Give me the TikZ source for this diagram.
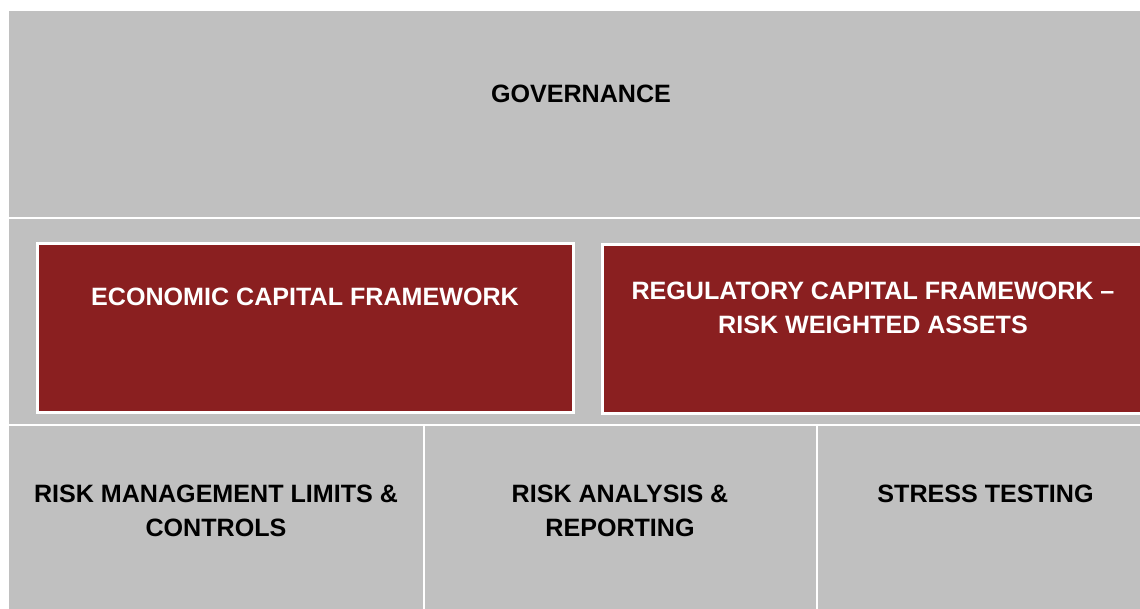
\documentclass[tikz,border=0pt]{standalone}
\usepackage{fontspec}
\setmainfont{Liberation Sans}
\definecolor{panelgray}{HTML}{C0C0C0}
\definecolor{capred}{HTML}{8A1F20}
\begin{document}
\begin{tikzpicture}[x=1pt,y=-1pt,
  cell/.style={fill=panelgray,draw=none},
  redbox/.style={fill=capred,draw=white,inner sep=0pt,outer sep=0pt,anchor=north west},
  lbl/.style={font=\bfseries\fontsize{25.1}{34}\selectfont,align=center,inner sep=0pt,anchor=base}]
\useasboundingbox (0,0) rectangle (1140,609);
\clip (0,0) rectangle (1140,609);
\path[cell] (9,11) rectangle (1160,217.5);
\path[cell] (9,219.5) rectangle (1160,424);
\path[cell] (9,426) rectangle (423,620);
\path[cell] (425,426) rectangle (815.5,620);
\path[cell] (817.5,426) rectangle (1160,620);
\node[redbox,line width=2.5pt,minimum width=536pt,minimum height=168.5pt] (ec) at (37.25,243.75) {};
\node[redbox,line width=3pt,minimum width=541pt,minimum height=168.5pt] (rc) at (602.5,244.5) {};
\node[lbl] (gov) at (581,102.8) {GOVERNANCE};
\node[lbl,text=white] (ect) at (305,305.8) {ECONOMIC CAPITAL FRAMEWORK};
\node[lbl,text=white] (rct) at (873,333.8) {REGULATORY CAPITAL FRAMEWORK --\\RISK WEIGHTED ASSETS};
\node[lbl] (rml) at (216,536.3) {RISK MANAGEMENT LIMITS \&\\CONTROLS};
\node[lbl] (rar) at (620,536.3) {RISK ANALYSIS \&\\REPORTING};
\node[lbl] (st) at (985.5,502.8) {STRESS TESTING};
\end{tikzpicture}
\end{document}
